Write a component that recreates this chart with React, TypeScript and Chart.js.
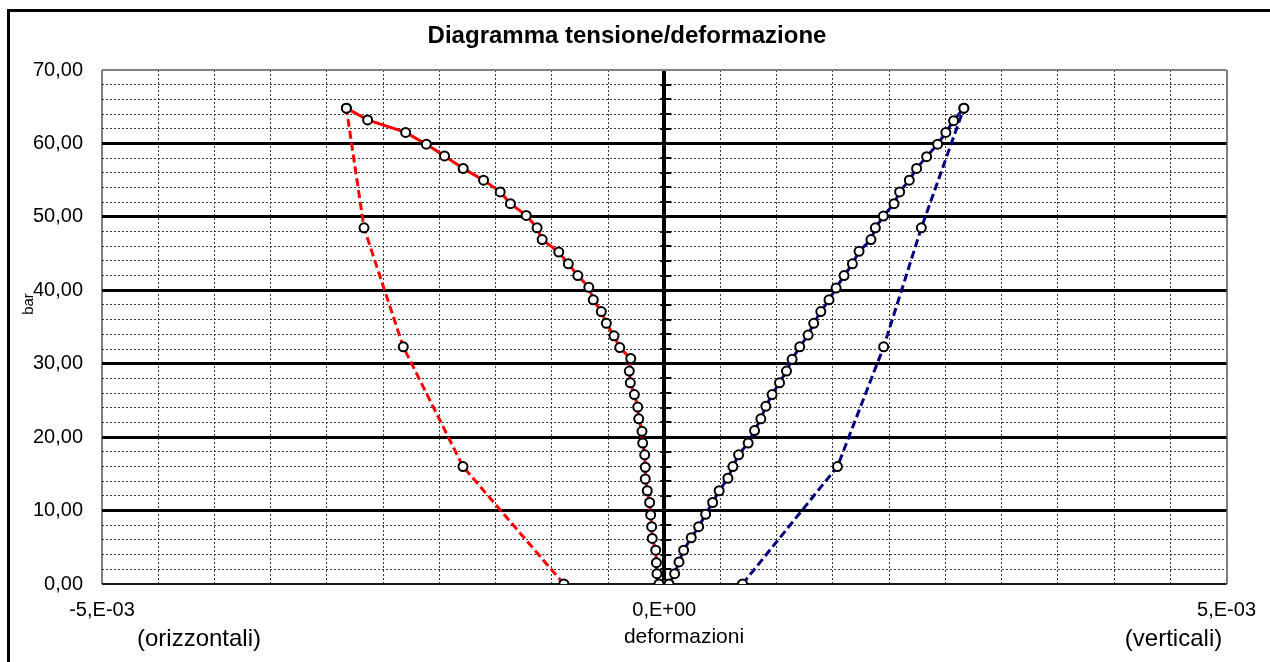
import React, { useEffect, useRef } from "react";
import { Chart, registerables } from "chart.js";

Chart.register(...registerables);

const FONT = '"Liberation Sans", Arial, sans-serif';

const TITLE = "Diagramma tensione/deformazione";
const Y_TITLE = "bar";
const X_TITLE = "deformazioni";
const LEFT_NOTE = "(orizzontali)";
const RIGHT_NOTE = "(verticali)";

// Horizontal strain (units of 1E-3, negative) and stress (bar) — loading branch
const horizStrain = [
  -0.047, -0.065, -0.07, -0.076, -0.107, -0.112, -0.121, -0.13, -0.151, -0.169,
  -0.169, -0.174, -0.192, -0.198, -0.227, -0.236, -0.266, -0.302, -0.311, -0.298,
  -0.396, -0.447, -0.515, -0.56, -0.631, -0.671, -0.769, -0.853, -0.938, -1.086,
  -1.131, -1.228, -1.368, -1.459, -1.607, -1.788, -1.954, -2.116, -2.3, -2.638,
  -2.827,
];
const horizStress = [
  0, 1.4, 2.9, 4.6, 6.2, 7.8, 9.4, 11.1, 12.7, 14.3,
  15.9, 17.6, 19.2, 20.8, 22.5, 24.1, 25.8, 27.4, 29.0, 30.7,
  32.2, 33.8, 35.5, 37.1, 38.7, 40.4, 42.0, 43.6, 45.2, 46.9,
  48.5, 50.2, 51.8, 53.4, 55.0, 56.6, 58.3, 59.9, 61.5, 63.2,
  64.8,
];

// Vertical strain (units of 1E-3, positive) and stress (bar) — loading branch
const vertStrain = [
  0.006, 0.042, 0.092, 0.131, 0.172, 0.24, 0.306, 0.368, 0.43, 0.488,
  0.566, 0.61, 0.661, 0.746, 0.803, 0.859, 0.903, 0.959, 1.025, 1.087,
  1.137, 1.205, 1.279, 1.329, 1.392, 1.465, 1.528, 1.599, 1.673, 1.732,
  1.838, 1.877, 1.948, 2.043, 2.093, 2.179, 2.244, 2.333, 2.431, 2.504,
  2.573, 2.664,
];
const vertStress = [
  0, 0, 1.4, 3.0, 4.6, 6.3, 7.8, 9.5, 11.1, 12.7,
  14.4, 16.0, 17.6, 19.2, 20.9, 22.5, 24.2, 25.8, 27.4, 29.0,
  30.6, 32.3, 33.9, 35.5, 37.1, 38.7, 40.3, 42.0, 43.6, 45.3,
  46.9, 48.5, 50.1, 51.8, 53.4, 55.0, 56.6, 58.2, 59.9, 61.5,
  63.1, 64.8,
];

// Dashed branches (units of 1E-3) and stress (bar)
const horizBranchStrain = [-0.893, -1.79, -2.321, -2.67, -2.827];
const vertBranchStrain = [0.696, 1.54, 1.951, 2.286, 2.664];
const branchStress = [0, 16.0, 32.3, 48.5, 64.8];

const X_MIN = -5e-3;
const X_MAX = 5e-3;
const X_STEP = 0.5e-3;
const Y_MIN = 0;
const Y_MAX = 70;
const Y_STEP = 2;
const Y_MAJOR = 10;

const RED = "#ff0000";
const NAVY = "#000080";

const toPoints = (xs: number[], ys: number[]) =>
  xs.map((v, i) => ({ x: v * 1e-3, y: ys[i] }));

const formatX = (v: number) => {
  if (Math.abs(v) < 1e-12) return "0,E+00";
  const exp = Math.floor(Math.log10(Math.abs(v)) + 1e-9);
  const mant = Math.round(v / Math.pow(10, exp));
  return `${mant},E${exp < 0 ? "-" : "+"}${String(Math.abs(exp)).padStart(2, "0")}`;
};

const xIndex = (v: number) => Math.round(v / X_STEP);

const pointStyle = {
  pointRadius: 4.5,
  pointHoverRadius: 4.5,
  pointBorderWidth: 2,
  pointBackgroundColor: "#ffffff",
  pointBorderColor: "#000000",
};

const annotations = {
  id: "annotations",
  beforeDatasetsDraw(chart: any) {
    const { ctx, scales } = chart;
    const x = scales.x;
    const y = scales.y;
    const x0 = x.getPixelForValue(0);
    ctx.save();
    ctx.strokeStyle = "#000";
    ctx.lineWidth = 2;
    y.ticks.forEach((t: any) => {
      if (t.value <= Y_MIN || t.value >= Y_MAX) return;
      const py = Math.round(y.getPixelForValue(t.value));
      ctx.beginPath();
      ctx.moveTo(x0 - 4, py);
      ctx.lineTo(x0 + 7, py);
      ctx.stroke();
    });
    ctx.restore();
  },
  afterDraw(chart: any) {
    const { ctx, chartArea } = chart;
    ctx.save();
    ctx.fillStyle = "#000";
    ctx.textAlign = "center";
    ctx.textBaseline = "middle";
    ctx.font = `bold 24px ${FONT}`;
    ctx.fillText(TITLE, 627, 36);
    ctx.font = `24px ${FONT}`;
    ctx.fillText(LEFT_NOTE, chartArea.left + 97, 639);
    ctx.fillText(RIGHT_NOTE, chartArea.right - 53, 639);
    ctx.font = `21px ${FONT}`;
    ctx.fillText(X_TITLE, 684, 637);
    ctx.translate(29, 304);
    ctx.rotate(-Math.PI / 2);
    ctx.font = `15px ${FONT}`;
    ctx.fillText(Y_TITLE, 0, 0);
    ctx.restore();
  },
};

export default function App() {
  const ref = useRef<HTMLCanvasElement>(null);

  useEffect(() => {
    if (!ref.current) return;
    const chart = new Chart(ref.current, {
      type: "scatter",
      data: {
        datasets: [
          {
            label: "orizzontali",
            data: toPoints(horizStrain, horizStress),
            showLine: true,
            borderColor: RED,
            borderWidth: 3,
            ...pointStyle,
          },
          {
            label: "verticali",
            data: toPoints(vertStrain, vertStress),
            showLine: true,
            borderColor: NAVY,
            borderWidth: 3,
            ...pointStyle,
          },
          {
            label: "orizzontali (ramo)",
            data: toPoints(horizBranchStrain, branchStress),
            showLine: true,
            borderColor: RED,
            borderWidth: 3,
            borderDash: [8, 4],
            ...pointStyle,
          },
          {
            label: "verticali (ramo)",
            data: toPoints(vertBranchStrain, branchStress),
            showLine: true,
            borderColor: NAVY,
            borderWidth: 3,
            borderDash: [8, 4],
            ...pointStyle,
          },
        ],
      },
      options: {
        responsive: false,
        animation: false,
        events: [],
        layout: { padding: { left: 0, right: 42, top: 70, bottom: 0 } },
        plugins: {
          legend: { display: false },
          tooltip: { enabled: false },
          title: { display: false },
        },
        scales: {
          x: {
            type: "linear",
            min: X_MIN,
            max: X_MAX,
            afterFit: (s: any) => {
              s.height = 78;
            },
            ticks: {
              stepSize: X_STEP,
              autoSkip: false,
              maxRotation: 0,
              minRotation: 0,
              padding: 14,
              color: "#000",
              font: { family: FONT, size: 20 },
              callback: (v: any) => (xIndex(Number(v)) % 10 === 0 ? formatX(Number(v)) : ""),
            },
            grid: {
              drawTicks: false,
              tickLength: 0,
              color: (c: any) => {
                if (!c.tick) return "#808080";
                const k = xIndex(c.tick.value);
                if (k === 0) return "#000";
                if (Math.abs(k) === 10) return "#808080";
                return "#3a3a3a";
              },
              lineWidth: (c: any) => {
                if (!c.tick) return 1;
                const k = xIndex(c.tick.value);
                if (k === 0) return 4;
                if (Math.abs(k) === 10) return 2;
                return 1;
              },
            },
            border: {
              display: false,
              dash: (c: any) => {
                if (!c.tick) return [];
                const k = xIndex(c.tick.value);
                return k === 0 || Math.abs(k) === 10 ? [] : [2, 2];
              },
            },
          },
          y: {
            type: "linear",
            min: Y_MIN,
            max: Y_MAX,
            afterFit: (s: any) => {
              s.width = 102;
            },
            ticks: {
              stepSize: Y_STEP,
              autoSkip: false,
              padding: 19,
              color: "#000",
              font: { family: FONT, size: 20 },
              callback: (v: any) =>
                Number(v) % Y_MAJOR === 0 ? Number(v).toFixed(2).replace(".", ",") : "",
            },
            grid: {
              drawTicks: false,
              tickLength: 0,
              color: (c: any) => {
                if (!c.tick) return "#808080";
                const v = c.tick.value;
                if (v === Y_MAX) return "#808080";
                if (v === Y_MIN) return "#1a1a1a";
                if (v % Y_MAJOR === 0) return "#000";
                return "#3a3a3a";
              },
              lineWidth: (c: any) => {
                if (!c.tick) return 1;
                const v = c.tick.value;
                if (v === Y_MAX || v === Y_MIN) return 2;
                if (v % Y_MAJOR === 0) return 3;
                return 1;
              },
            },
            border: {
              display: false,
              dash: (c: any) => {
                if (!c.tick) return [];
                return c.tick.value % Y_MAJOR === 0 ? [] : [2, 2];
              },
            },
          },
        },
      },
      plugins: [annotations],
    } as any);
    return () => chart.destroy();
  }, []);

  return (
    <div
      style={{
        position: "fixed",
        left: 0,
        top: 0,
        width: 1270,
        height: 662,
        overflow: "hidden",
        background: "#fff",
      }}
    >
      <canvas
        ref={ref}
        width={1270}
        height={662}
        style={{ position: "absolute", left: 0, top: 0, display: "block" }}
      />
      <div
        style={{
          position: "absolute",
          left: 7,
          top: 9,
          width: 1300,
          height: 700,
          border: "3px solid #000",
          pointerEvents: "none",
        }}
      />
    </div>
  );
}
